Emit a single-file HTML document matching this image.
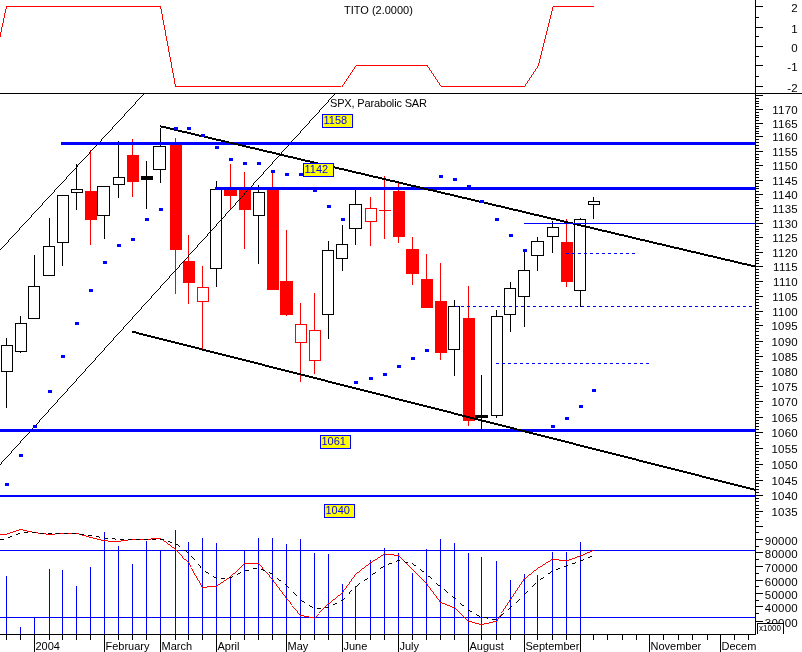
<!DOCTYPE html>
<html><head><meta charset="utf-8"><title>SPX chart</title>
<style>
html,body{margin:0;padding:0;background:#fff;}
svg{display:block;}
text{font-family:"Liberation Sans",sans-serif;fill:#000;}
.t{font-size:11px;}
.a{font-size:11.5px;letter-spacing:0.25px;}
</style></head><body>
<svg width="802" height="652" viewBox="0 0 802 652" shape-rendering="crispEdges">
<rect width="802" height="652" fill="#fff"/>
<path fill="#ff0000" d="M6 6h155v1h-155zM553 6h41v1h-41zM6 7h1v1h-1zM160 7h1v1h-1zM552 7h1v1h-1zM6 8h1v1h-1zM160 8h1v1h-1zM552 8h1v1h-1zM5 9h1v1h-1zM161 9h1v1h-1zM552 9h1v1h-1zM5 10h1v1h-1zM161 10h1v1h-1zM552 10h1v1h-1zM5 11h1v1h-1zM161 11h1v1h-1zM551 11h1v1h-1zM5 12h1v1h-1zM161 12h1v1h-1zM551 12h1v1h-1zM4 13h1v1h-1zM161 13h1v1h-1zM551 13h1v1h-1zM4 14h1v1h-1zM162 14h1v1h-1zM551 14h1v1h-1zM4 15h1v1h-1zM162 15h1v1h-1zM550 15h1v1h-1zM4 16h1v1h-1zM162 16h1v1h-1zM550 16h1v1h-1zM4 17h1v1h-1zM162 17h1v1h-1zM550 17h1v1h-1zM3 18h1v1h-1zM162 18h1v1h-1zM550 18h1v1h-1zM3 19h1v1h-1zM162 19h1v1h-1zM549 19h1v1h-1zM3 20h1v1h-1zM163 20h1v1h-1zM549 20h1v1h-1zM3 21h1v1h-1zM163 21h1v1h-1zM549 21h1v1h-1zM3 22h1v1h-1zM163 22h1v1h-1zM549 22h1v1h-1zM2 23h1v1h-1zM163 23h1v1h-1zM548 23h1v1h-1zM2 24h1v1h-1zM163 24h1v1h-1zM548 24h1v1h-1zM2 25h1v1h-1zM164 25h1v1h-1zM548 25h1v1h-1zM2 26h1v1h-1zM164 26h1v1h-1zM548 26h1v1h-1zM1 27h1v1h-1zM164 27h1v1h-1zM547 27h1v1h-1zM1 28h1v1h-1zM164 28h1v1h-1zM547 28h1v1h-1zM1 29h1v1h-1zM164 29h1v1h-1zM547 29h1v1h-1zM1 30h1v1h-1zM165 30h1v1h-1zM547 30h1v1h-1zM1 31h1v1h-1zM165 31h1v1h-1zM546 31h1v1h-1zM0 32h1v1h-1zM165 32h1v1h-1zM546 32h1v1h-1zM0 33h1v1h-1zM165 33h1v1h-1zM546 33h1v1h-1zM0 34h1v1h-1zM165 34h1v1h-1zM546 34h1v1h-1zM0 35h1v1h-1zM165 35h1v1h-1zM545 35h1v1h-1zM0 36h1v1h-1zM166 36h1v1h-1zM545 36h1v1h-1zM166 37h1v1h-1zM545 37h1v1h-1zM166 38h1v1h-1zM545 38h1v1h-1zM166 39h1v1h-1zM544 39h1v1h-1zM166 40h1v1h-1zM544 40h1v1h-1zM167 41h1v1h-1zM544 41h1v1h-1zM167 42h1v1h-1zM544 42h1v1h-1zM167 43h1v1h-1zM543 43h1v1h-1zM167 44h1v1h-1zM543 44h1v1h-1zM167 45h1v1h-1zM543 45h1v1h-1zM168 46h1v1h-1zM543 46h1v1h-1zM168 47h1v1h-1zM542 47h1v1h-1zM168 48h1v1h-1zM542 48h1v1h-1zM168 49h1v1h-1zM542 49h1v1h-1zM168 50h1v1h-1zM542 50h1v1h-1zM168 51h1v1h-1zM541 51h1v1h-1zM169 52h1v1h-1zM541 52h1v1h-1zM169 53h1v1h-1zM541 53h1v1h-1zM169 54h1v1h-1zM541 54h1v1h-1zM169 55h1v1h-1zM540 55h1v1h-1zM169 56h1v1h-1zM540 56h1v1h-1zM170 57h1v1h-1zM540 57h1v1h-1zM170 58h1v1h-1zM540 58h1v1h-1zM170 59h1v1h-1zM539 59h1v1h-1zM170 60h1v1h-1zM539 60h1v1h-1zM170 61h1v1h-1zM539 61h1v1h-1zM171 62h1v1h-1zM539 62h1v1h-1zM171 63h1v1h-1zM538 63h1v1h-1zM171 64h1v1h-1zM538 64h1v1h-1zM171 65h1v1h-1zM356 65h72v1h-72zM538 65h1v1h-1zM171 66h1v1h-1zM355 66h1v1h-1zM427 66h1v1h-1zM537 66h1v1h-1zM171 67h1v1h-1zM354 67h1v1h-1zM428 67h1v1h-1zM537 67h1v1h-1zM172 68h1v1h-1zM354 68h1v1h-1zM429 68h1v1h-1zM536 68h1v1h-1zM172 69h1v1h-1zM353 69h1v1h-1zM429 69h1v1h-1zM535 69h1v1h-1zM172 70h1v1h-1zM352 70h1v1h-1zM430 70h1v1h-1zM535 70h1v1h-1zM172 71h1v1h-1zM352 71h1v1h-1zM431 71h1v1h-1zM534 71h1v1h-1zM172 72h1v1h-1zM351 72h1v1h-1zM431 72h1v1h-1zM533 72h1v1h-1zM173 73h1v1h-1zM350 73h1v1h-1zM432 73h1v1h-1zM533 73h1v1h-1zM173 74h1v1h-1zM350 74h1v1h-1zM433 74h1v1h-1zM532 74h1v1h-1zM173 75h1v1h-1zM349 75h1v1h-1zM433 75h1v1h-1zM531 75h1v1h-1zM173 76h1v1h-1zM348 76h1v1h-1zM434 76h1v1h-1zM531 76h1v1h-1zM173 77h1v1h-1zM348 77h1v1h-1zM435 77h1v1h-1zM530 77h1v1h-1zM174 78h1v1h-1zM347 78h1v1h-1zM435 78h1v1h-1zM529 78h1v1h-1zM174 79h1v1h-1zM346 79h1v1h-1zM436 79h1v1h-1zM529 79h1v1h-1zM174 80h1v1h-1zM346 80h1v1h-1zM437 80h1v1h-1zM528 80h1v1h-1zM174 81h1v1h-1zM345 81h1v1h-1zM437 81h1v1h-1zM527 81h1v1h-1zM174 82h1v1h-1zM344 82h1v1h-1zM438 82h1v1h-1zM527 82h1v1h-1zM174 83h1v1h-1zM344 83h1v1h-1zM439 83h1v1h-1zM526 83h1v1h-1zM175 84h1v1h-1zM343 84h1v1h-1zM439 84h1v1h-1zM525 84h1v1h-1zM175 85h1v1h-1zM342 85h1v1h-1zM440 85h1v1h-1zM525 85h1v1h-1zM175 86h166v1h-166zM342 86h1v1h-1zM441 86h84v1h-84z"/>
<text x="344" y="14" class="t">TITO (2.0000)</text>
<rect x="0" y="93" width="802" height="1" fill="#000000"/>
<rect x="755" y="0" width="1" height="635" fill="#000000"/>
<rect x="756" y="6" width="7" height="1" fill="#000000"/>
<text x="798" y="11.5" class="a" text-anchor="end">2</text>
<rect x="756" y="27" width="7" height="1" fill="#000000"/>
<text x="798" y="32.5" class="a" text-anchor="end">1</text>
<rect x="756" y="46" width="7" height="1" fill="#000000"/>
<text x="798" y="51.5" class="a" text-anchor="end">0</text>
<rect x="756" y="65" width="7" height="1" fill="#000000"/>
<text x="798" y="70.5" class="a" text-anchor="end">-1</text>
<rect x="756" y="86" width="7" height="1" fill="#000000"/>
<text x="798" y="91.5" class="a" text-anchor="end">-2</text>
<rect x="756" y="17" width="3" height="1" fill="#000000"/>
<rect x="756" y="36" width="3" height="1" fill="#000000"/>
<rect x="756" y="56" width="3" height="1" fill="#000000"/>
<rect x="756" y="76" width="3" height="1" fill="#000000"/>
<rect x="756" y="521" width="3" height="1" fill="#000000"/>
<rect x="756" y="517" width="3" height="1" fill="#000000"/>
<rect x="756" y="514" width="3" height="1" fill="#000000"/>
<rect x="756" y="511" width="7" height="1" fill="#000000"/>
<text x="798" y="516.2" class="a" text-anchor="end">1035</text>
<rect x="756" y="508" width="3" height="1" fill="#000000"/>
<rect x="756" y="505" width="3" height="1" fill="#000000"/>
<rect x="756" y="501" width="3" height="1" fill="#000000"/>
<rect x="756" y="498" width="3" height="1" fill="#000000"/>
<rect x="756" y="495" width="7" height="1" fill="#000000"/>
<text x="798" y="500.2" class="a" text-anchor="end">1040</text>
<rect x="756" y="492" width="3" height="1" fill="#000000"/>
<rect x="756" y="489" width="3" height="1" fill="#000000"/>
<rect x="756" y="486" width="3" height="1" fill="#000000"/>
<rect x="756" y="483" width="3" height="1" fill="#000000"/>
<rect x="756" y="480" width="7" height="1" fill="#000000"/>
<text x="798" y="485.2" class="a" text-anchor="end">1045</text>
<rect x="756" y="477" width="3" height="1" fill="#000000"/>
<rect x="756" y="474" width="3" height="1" fill="#000000"/>
<rect x="756" y="470" width="3" height="1" fill="#000000"/>
<rect x="756" y="467" width="3" height="1" fill="#000000"/>
<rect x="756" y="464" width="7" height="1" fill="#000000"/>
<text x="798" y="469.2" class="a" text-anchor="end">1050</text>
<rect x="756" y="461" width="3" height="1" fill="#000000"/>
<rect x="756" y="458" width="3" height="1" fill="#000000"/>
<rect x="756" y="454" width="3" height="1" fill="#000000"/>
<rect x="756" y="451" width="3" height="1" fill="#000000"/>
<rect x="756" y="448" width="7" height="1" fill="#000000"/>
<text x="798" y="453.2" class="a" text-anchor="end">1055</text>
<rect x="756" y="445" width="3" height="1" fill="#000000"/>
<rect x="756" y="442" width="3" height="1" fill="#000000"/>
<rect x="756" y="438" width="3" height="1" fill="#000000"/>
<rect x="756" y="435" width="3" height="1" fill="#000000"/>
<rect x="756" y="432" width="7" height="1" fill="#000000"/>
<text x="798" y="437.2" class="a" text-anchor="end">1060</text>
<rect x="756" y="429" width="3" height="1" fill="#000000"/>
<rect x="756" y="426" width="3" height="1" fill="#000000"/>
<rect x="756" y="423" width="3" height="1" fill="#000000"/>
<rect x="756" y="420" width="3" height="1" fill="#000000"/>
<rect x="756" y="417" width="7" height="1" fill="#000000"/>
<text x="798" y="422.2" class="a" text-anchor="end">1065</text>
<rect x="756" y="414" width="3" height="1" fill="#000000"/>
<rect x="756" y="411" width="3" height="1" fill="#000000"/>
<rect x="756" y="407" width="3" height="1" fill="#000000"/>
<rect x="756" y="404" width="3" height="1" fill="#000000"/>
<rect x="756" y="401" width="7" height="1" fill="#000000"/>
<text x="798" y="406.2" class="a" text-anchor="end">1070</text>
<rect x="756" y="398" width="3" height="1" fill="#000000"/>
<rect x="756" y="395" width="3" height="1" fill="#000000"/>
<rect x="756" y="392" width="3" height="1" fill="#000000"/>
<rect x="756" y="389" width="3" height="1" fill="#000000"/>
<rect x="756" y="386" width="7" height="1" fill="#000000"/>
<text x="798" y="391.2" class="a" text-anchor="end">1075</text>
<rect x="756" y="383" width="3" height="1" fill="#000000"/>
<rect x="756" y="380" width="3" height="1" fill="#000000"/>
<rect x="756" y="377" width="3" height="1" fill="#000000"/>
<rect x="756" y="374" width="3" height="1" fill="#000000"/>
<rect x="756" y="371" width="7" height="1" fill="#000000"/>
<text x="798" y="376.2" class="a" text-anchor="end">1080</text>
<rect x="756" y="368" width="3" height="1" fill="#000000"/>
<rect x="756" y="365" width="3" height="1" fill="#000000"/>
<rect x="756" y="362" width="3" height="1" fill="#000000"/>
<rect x="756" y="359" width="3" height="1" fill="#000000"/>
<rect x="756" y="356" width="7" height="1" fill="#000000"/>
<text x="798" y="361.2" class="a" text-anchor="end">1085</text>
<rect x="756" y="353" width="3" height="1" fill="#000000"/>
<rect x="756" y="350" width="3" height="1" fill="#000000"/>
<rect x="756" y="347" width="3" height="1" fill="#000000"/>
<rect x="756" y="344" width="3" height="1" fill="#000000"/>
<rect x="756" y="341" width="7" height="1" fill="#000000"/>
<text x="798" y="346.2" class="a" text-anchor="end">1090</text>
<rect x="756" y="338" width="3" height="1" fill="#000000"/>
<rect x="756" y="335" width="3" height="1" fill="#000000"/>
<rect x="756" y="331" width="3" height="1" fill="#000000"/>
<rect x="756" y="328" width="3" height="1" fill="#000000"/>
<rect x="756" y="325" width="7" height="1" fill="#000000"/>
<text x="798" y="330.2" class="a" text-anchor="end">1095</text>
<rect x="756" y="322" width="3" height="1" fill="#000000"/>
<rect x="756" y="319" width="3" height="1" fill="#000000"/>
<rect x="756" y="317" width="3" height="1" fill="#000000"/>
<rect x="756" y="314" width="3" height="1" fill="#000000"/>
<rect x="756" y="311" width="7" height="1" fill="#000000"/>
<text x="798" y="316.2" class="a" text-anchor="end">1100</text>
<rect x="756" y="308" width="3" height="1" fill="#000000"/>
<rect x="756" y="305" width="3" height="1" fill="#000000"/>
<rect x="756" y="302" width="3" height="1" fill="#000000"/>
<rect x="756" y="299" width="3" height="1" fill="#000000"/>
<rect x="756" y="296" width="7" height="1" fill="#000000"/>
<text x="798" y="301.2" class="a" text-anchor="end">1105</text>
<rect x="756" y="293" width="3" height="1" fill="#000000"/>
<rect x="756" y="290" width="3" height="1" fill="#000000"/>
<rect x="756" y="287" width="3" height="1" fill="#000000"/>
<rect x="756" y="284" width="3" height="1" fill="#000000"/>
<rect x="756" y="281" width="7" height="1" fill="#000000"/>
<text x="798" y="286.2" class="a" text-anchor="end">1110</text>
<rect x="756" y="278" width="3" height="1" fill="#000000"/>
<rect x="756" y="275" width="3" height="1" fill="#000000"/>
<rect x="756" y="272" width="3" height="1" fill="#000000"/>
<rect x="756" y="269" width="3" height="1" fill="#000000"/>
<rect x="756" y="266" width="7" height="1" fill="#000000"/>
<text x="798" y="271.2" class="a" text-anchor="end">1115</text>
<rect x="756" y="263" width="3" height="1" fill="#000000"/>
<rect x="756" y="260" width="3" height="1" fill="#000000"/>
<rect x="756" y="258" width="3" height="1" fill="#000000"/>
<rect x="756" y="255" width="3" height="1" fill="#000000"/>
<rect x="756" y="252" width="7" height="1" fill="#000000"/>
<text x="798" y="257.2" class="a" text-anchor="end">1120</text>
<rect x="756" y="249" width="3" height="1" fill="#000000"/>
<rect x="756" y="246" width="3" height="1" fill="#000000"/>
<rect x="756" y="243" width="3" height="1" fill="#000000"/>
<rect x="756" y="240" width="3" height="1" fill="#000000"/>
<rect x="756" y="237" width="7" height="1" fill="#000000"/>
<text x="798" y="242.2" class="a" text-anchor="end">1125</text>
<rect x="756" y="234" width="3" height="1" fill="#000000"/>
<rect x="756" y="231" width="3" height="1" fill="#000000"/>
<rect x="756" y="229" width="3" height="1" fill="#000000"/>
<rect x="756" y="226" width="3" height="1" fill="#000000"/>
<rect x="756" y="223" width="7" height="1" fill="#000000"/>
<text x="798" y="228.2" class="a" text-anchor="end">1130</text>
<rect x="756" y="220" width="3" height="1" fill="#000000"/>
<rect x="756" y="217" width="3" height="1" fill="#000000"/>
<rect x="756" y="214" width="3" height="1" fill="#000000"/>
<rect x="756" y="211" width="3" height="1" fill="#000000"/>
<rect x="756" y="208" width="7" height="1" fill="#000000"/>
<text x="798" y="213.2" class="a" text-anchor="end">1135</text>
<rect x="756" y="205" width="3" height="1" fill="#000000"/>
<rect x="756" y="202" width="3" height="1" fill="#000000"/>
<rect x="756" y="200" width="3" height="1" fill="#000000"/>
<rect x="756" y="197" width="3" height="1" fill="#000000"/>
<rect x="756" y="194" width="7" height="1" fill="#000000"/>
<text x="798" y="199.2" class="a" text-anchor="end">1140</text>
<rect x="756" y="191" width="3" height="1" fill="#000000"/>
<rect x="756" y="188" width="3" height="1" fill="#000000"/>
<rect x="756" y="186" width="3" height="1" fill="#000000"/>
<rect x="756" y="183" width="3" height="1" fill="#000000"/>
<rect x="756" y="180" width="7" height="1" fill="#000000"/>
<text x="798" y="185.2" class="a" text-anchor="end">1145</text>
<rect x="756" y="177" width="3" height="1" fill="#000000"/>
<rect x="756" y="174" width="3" height="1" fill="#000000"/>
<rect x="756" y="171" width="3" height="1" fill="#000000"/>
<rect x="756" y="168" width="3" height="1" fill="#000000"/>
<rect x="756" y="165" width="7" height="1" fill="#000000"/>
<text x="798" y="170.2" class="a" text-anchor="end">1150</text>
<rect x="756" y="162" width="3" height="1" fill="#000000"/>
<rect x="756" y="159" width="3" height="1" fill="#000000"/>
<rect x="756" y="157" width="3" height="1" fill="#000000"/>
<rect x="756" y="154" width="3" height="1" fill="#000000"/>
<rect x="756" y="151" width="7" height="1" fill="#000000"/>
<text x="798" y="156.2" class="a" text-anchor="end">1155</text>
<rect x="756" y="148" width="3" height="1" fill="#000000"/>
<rect x="756" y="145" width="3" height="1" fill="#000000"/>
<rect x="756" y="142" width="3" height="1" fill="#000000"/>
<rect x="756" y="139" width="3" height="1" fill="#000000"/>
<rect x="756" y="136" width="7" height="1" fill="#000000"/>
<text x="798" y="141.2" class="a" text-anchor="end">1160</text>
<rect x="756" y="133" width="3" height="1" fill="#000000"/>
<rect x="756" y="131" width="3" height="1" fill="#000000"/>
<rect x="756" y="128" width="3" height="1" fill="#000000"/>
<rect x="756" y="126" width="3" height="1" fill="#000000"/>
<rect x="756" y="123" width="7" height="1" fill="#000000"/>
<text x="798" y="128.2" class="a" text-anchor="end">1165</text>
<rect x="756" y="120" width="3" height="1" fill="#000000"/>
<rect x="756" y="117" width="3" height="1" fill="#000000"/>
<rect x="756" y="115" width="3" height="1" fill="#000000"/>
<rect x="756" y="112" width="3" height="1" fill="#000000"/>
<rect x="756" y="109" width="7" height="1" fill="#000000"/>
<text x="798" y="114.2" class="a" text-anchor="end">1170</text>
<rect x="756" y="106" width="3" height="1" fill="#000000"/>
<rect x="756" y="103" width="3" height="1" fill="#000000"/>
<rect x="756" y="101" width="3" height="1" fill="#000000"/>
<rect x="756" y="98" width="3" height="1" fill="#000000"/>
<rect x="756" y="95" width="7" height="1" fill="#000000"/>
<rect x="756" y="526" width="7" height="1" fill="#000000"/>
<rect x="756" y="539" width="7" height="1" fill="#000000"/>
<text x="798" y="544.5" class="a" text-anchor="end">90000</text>
<rect x="756" y="552" width="7" height="1" fill="#000000"/>
<text x="798" y="557.5" class="a" text-anchor="end">80000</text>
<rect x="756" y="566" width="7" height="1" fill="#000000"/>
<text x="798" y="571.5" class="a" text-anchor="end">70000</text>
<rect x="756" y="580" width="7" height="1" fill="#000000"/>
<text x="798" y="585.5" class="a" text-anchor="end">60000</text>
<rect x="756" y="593" width="7" height="1" fill="#000000"/>
<text x="798" y="598.5" class="a" text-anchor="end">50000</text>
<rect x="756" y="606" width="7" height="1" fill="#000000"/>
<text x="798" y="611.5" class="a" text-anchor="end">40000</text>
<rect x="756" y="621" width="7" height="1" fill="#000000"/>
<text x="798" y="626.5" class="a" text-anchor="end">30000</text>
<rect x="756" y="517" width="3" height="1" fill="#000000"/>
<rect x="756" y="532" width="3" height="1" fill="#000000"/>
<rect x="756" y="546" width="3" height="1" fill="#000000"/>
<rect x="756" y="559" width="3" height="1" fill="#000000"/>
<rect x="756" y="573" width="3" height="1" fill="#000000"/>
<rect x="756" y="586" width="3" height="1" fill="#000000"/>
<rect x="756" y="600" width="3" height="1" fill="#000000"/>
<rect x="756" y="613" width="3" height="1" fill="#000000"/>
<rect x="757" y="623" width="27" height="11" fill="#fff"/>
<rect x="757" y="623" width="27" height="1" fill="#000000"/>
<rect x="757" y="623" width="1" height="11" fill="#000000"/>
<rect x="783" y="623" width="1" height="11" fill="#000000"/>
<text x="759" y="631" style="font-size:9px" textLength="22" lengthAdjust="spacingAndGlyphs">x1000</text>
<rect x="0" y="634" width="756" height="1" fill="#000000"/>
<rect x="6" y="635" width="1" height="5" fill="#000000"/>
<rect x="20" y="635" width="1" height="5" fill="#000000"/>
<rect x="34" y="635" width="1" height="17" fill="#000000"/>
<text x="35.5" y="649.5" class="t">2004</text>
<rect x="49" y="635" width="1" height="5" fill="#000000"/>
<rect x="62" y="635" width="1" height="5" fill="#000000"/>
<rect x="76" y="635" width="1" height="5" fill="#000000"/>
<rect x="90" y="635" width="1" height="5" fill="#000000"/>
<rect x="104" y="635" width="1" height="17" fill="#000000"/>
<text x="105.5" y="649.5" class="t">February</text>
<rect x="118" y="635" width="1" height="5" fill="#000000"/>
<rect x="132" y="635" width="1" height="5" fill="#000000"/>
<rect x="146" y="635" width="1" height="5" fill="#000000"/>
<rect x="160" y="635" width="1" height="17" fill="#000000"/>
<text x="161.5" y="649.5" class="t">March</text>
<rect x="175" y="635" width="1" height="5" fill="#000000"/>
<rect x="188" y="635" width="1" height="5" fill="#000000"/>
<rect x="202" y="635" width="1" height="5" fill="#000000"/>
<rect x="216" y="635" width="1" height="17" fill="#000000"/>
<text x="217.5" y="649.5" class="t">April</text>
<rect x="230" y="635" width="1" height="5" fill="#000000"/>
<rect x="244" y="635" width="1" height="5" fill="#000000"/>
<rect x="258" y="635" width="1" height="5" fill="#000000"/>
<rect x="272" y="635" width="1" height="5" fill="#000000"/>
<rect x="286" y="635" width="1" height="17" fill="#000000"/>
<text x="287.5" y="649.5" class="t">May</text>
<rect x="300" y="635" width="1" height="5" fill="#000000"/>
<rect x="314" y="635" width="1" height="5" fill="#000000"/>
<rect x="328" y="635" width="1" height="5" fill="#000000"/>
<rect x="342" y="635" width="1" height="17" fill="#000000"/>
<text x="343.5" y="649.5" class="t">June</text>
<rect x="355" y="635" width="1" height="5" fill="#000000"/>
<rect x="370" y="635" width="1" height="5" fill="#000000"/>
<rect x="384" y="635" width="1" height="5" fill="#000000"/>
<rect x="398" y="635" width="1" height="17" fill="#000000"/>
<text x="399.5" y="649.5" class="t">July</text>
<rect x="412" y="635" width="1" height="5" fill="#000000"/>
<rect x="426" y="635" width="1" height="5" fill="#000000"/>
<rect x="440" y="635" width="1" height="5" fill="#000000"/>
<rect x="454" y="635" width="1" height="5" fill="#000000"/>
<rect x="468" y="635" width="1" height="17" fill="#000000"/>
<text x="469.5" y="649.5" class="t">August</text>
<rect x="481" y="635" width="1" height="5" fill="#000000"/>
<rect x="496" y="635" width="1" height="5" fill="#000000"/>
<rect x="510" y="635" width="1" height="5" fill="#000000"/>
<rect x="524" y="635" width="1" height="17" fill="#000000"/>
<text x="525.5" y="649.5" class="t">September</text>
<rect x="537" y="635" width="1" height="5" fill="#000000"/>
<rect x="552" y="635" width="1" height="5" fill="#000000"/>
<rect x="566" y="635" width="1" height="5" fill="#000000"/>
<rect x="580" y="635" width="1" height="17" fill="#000000"/>
<rect x="593" y="635" width="1" height="5" fill="#000000"/>
<rect x="607" y="635" width="1" height="5" fill="#000000"/>
<rect x="622" y="635" width="1" height="5" fill="#000000"/>
<rect x="636" y="635" width="1" height="5" fill="#000000"/>
<rect x="649" y="635" width="1" height="17" fill="#000000"/>
<text x="650.5" y="649.5" class="t">November</text>
<rect x="663" y="635" width="1" height="5" fill="#000000"/>
<rect x="678" y="635" width="1" height="5" fill="#000000"/>
<rect x="692" y="635" width="1" height="5" fill="#000000"/>
<rect x="707" y="635" width="1" height="5" fill="#000000"/>
<rect x="720" y="635" width="1" height="17" fill="#000000"/>
<text x="721.5" y="649.5" class="t">Decem</text>
<rect x="734" y="635" width="1" height="5" fill="#000000"/>
<rect x="748" y="635" width="1" height="5" fill="#000000"/>
<rect x="6" y="576" width="1" height="58" fill="#0000ff"/>
<rect x="20" y="627" width="1" height="7" fill="#0000ff"/>
<rect x="34" y="618" width="1" height="16" fill="#0000ff"/>
<rect x="49" y="569" width="1" height="65" fill="#0000ff"/>
<rect x="62" y="570" width="1" height="64" fill="#0000ff"/>
<rect x="76" y="586" width="1" height="48" fill="#0000ff"/>
<rect x="90" y="567" width="1" height="67" fill="#0000ff"/>
<rect x="104" y="532" width="1" height="102" fill="#0000ff"/>
<rect x="118" y="546" width="1" height="88" fill="#0000ff"/>
<rect x="132" y="564" width="1" height="70" fill="#0000ff"/>
<rect x="146" y="541" width="1" height="93" fill="#0000ff"/>
<rect x="160" y="550" width="1" height="84" fill="#0000ff"/>
<rect x="175" y="530" width="1" height="104" fill="#0000ff"/>
<rect x="188" y="542" width="1" height="92" fill="#0000ff"/>
<rect x="202" y="538" width="1" height="96" fill="#0000ff"/>
<rect x="216" y="543" width="1" height="91" fill="#0000ff"/>
<rect x="230" y="577" width="1" height="57" fill="#0000ff"/>
<rect x="244" y="550" width="1" height="84" fill="#0000ff"/>
<rect x="258" y="538" width="1" height="96" fill="#0000ff"/>
<rect x="272" y="538" width="1" height="96" fill="#0000ff"/>
<rect x="286" y="544" width="1" height="90" fill="#0000ff"/>
<rect x="300" y="539" width="1" height="95" fill="#0000ff"/>
<rect x="314" y="553" width="1" height="81" fill="#0000ff"/>
<rect x="328" y="554" width="1" height="80" fill="#0000ff"/>
<rect x="342" y="584" width="1" height="50" fill="#0000ff"/>
<rect x="355" y="586" width="1" height="48" fill="#0000ff"/>
<rect x="370" y="560" width="1" height="74" fill="#0000ff"/>
<rect x="384" y="548" width="1" height="86" fill="#0000ff"/>
<rect x="398" y="553" width="1" height="81" fill="#0000ff"/>
<rect x="412" y="573" width="1" height="61" fill="#0000ff"/>
<rect x="426" y="549" width="1" height="85" fill="#0000ff"/>
<rect x="440" y="539" width="1" height="95" fill="#0000ff"/>
<rect x="454" y="543" width="1" height="91" fill="#0000ff"/>
<rect x="468" y="553" width="1" height="81" fill="#0000ff"/>
<rect x="481" y="557" width="1" height="77" fill="#0000ff"/>
<rect x="496" y="561" width="1" height="73" fill="#0000ff"/>
<rect x="510" y="580" width="1" height="54" fill="#0000ff"/>
<rect x="524" y="574" width="1" height="60" fill="#0000ff"/>
<rect x="537" y="575" width="1" height="59" fill="#0000ff"/>
<rect x="552" y="552" width="1" height="82" fill="#0000ff"/>
<rect x="566" y="552" width="1" height="82" fill="#0000ff"/>
<rect x="580" y="542" width="1" height="92" fill="#0000ff"/>
<rect x="0" y="550" width="755" height="1" fill="#0000ff"/>
<rect x="0" y="617" width="755" height="1" fill="#0000ff"/>
<path fill="#ff0000" d="M19 529h4v1h-4zM16 530h3v1h-3zM23 530h4v1h-4zM13 531h3v1h-3zM27 531h5v1h-5zM10 532h3v1h-3zM32 532h6v1h-6zM7 533h3v1h-3zM38 533h8v1h-8zM55 533h24v1h-24zM0 534h7v1h-7zM46 534h9v1h-9zM79 534h3v1h-3zM82 535h4v1h-4zM86 536h3v1h-3zM89 537h4v1h-4zM93 538h4v1h-4zM151 538h10v1h-10zM97 539h4v1h-4zM128 539h23v1h-23zM161 539h2v1h-2zM101 540h7v1h-7zM121 540h7v1h-7zM163 540h1v1h-1zM108 541h13v1h-13zM164 541h2v1h-2zM166 542h1v1h-1zM167 543h1v1h-1zM168 544h2v1h-2zM170 545h1v1h-1zM171 546h1v1h-1zM172 547h2v1h-2zM174 548h1v1h-1zM175 549h1v1h-1zM176 550h1v1h-1zM592 550h1v1h-1zM177 551h1v1h-1zM590 551h2v1h-2zM178 552h1v1h-1zM587 552h3v1h-3zM179 553h1v1h-1zM384 553h1v1h-1zM585 553h2v1h-2zM180 554h1v1h-1zM383 554h1v1h-1zM385 554h9v1h-9zM583 554h2v1h-2zM181 555h1v1h-1zM381 555h2v1h-2zM394 555h5v1h-5zM580 555h3v1h-3zM182 556h1v1h-1zM380 556h1v1h-1zM399 556h1v1h-1zM577 556h3v1h-3zM182 557h1v1h-1zM378 557h2v1h-2zM400 557h1v1h-1zM575 557h2v1h-2zM183 558h1v1h-1zM377 558h1v1h-1zM401 558h1v1h-1zM572 558h3v1h-3zM184 559h2v1h-2zM375 559h2v1h-2zM402 559h1v1h-1zM551 559h8v1h-8zM569 559h3v1h-3zM186 560h1v1h-1zM373 560h2v1h-2zM403 560h1v1h-1zM550 560h1v1h-1zM559 560h10v1h-10zM187 561h1v1h-1zM372 561h1v1h-1zM404 561h1v1h-1zM548 561h2v1h-2zM188 562h1v1h-1zM370 562h2v1h-2zM405 562h1v1h-1zM546 562h2v1h-2zM189 563h1v1h-1zM244 563h15v1h-15zM369 563h1v1h-1zM406 563h1v1h-1zM545 563h1v1h-1zM189 564h1v1h-1zM243 564h1v1h-1zM259 564h1v1h-1zM368 564h1v1h-1zM407 564h1v1h-1zM543 564h2v1h-2zM190 565h1v1h-1zM242 565h1v1h-1zM260 565h1v1h-1zM366 565h2v1h-2zM408 565h1v1h-1zM542 565h1v1h-1zM190 566h1v1h-1zM241 566h1v1h-1zM261 566h1v1h-1zM365 566h1v1h-1zM409 566h1v1h-1zM540 566h2v1h-2zM240 567h1v1h-1zM262 567h1v1h-1zM364 567h1v1h-1zM410 567h1v1h-1zM538 567h2v1h-2zM191 568h1v1h-1zM239 568h1v1h-1zM262 568h1v1h-1zM362 568h2v1h-2zM411 568h1v1h-1zM537 568h1v1h-1zM192 569h1v1h-1zM238 569h1v1h-1zM263 569h1v1h-1zM361 569h1v1h-1zM412 569h1v1h-1zM536 569h1v1h-1zM192 570h1v1h-1zM237 570h1v1h-1zM264 570h1v1h-1zM360 570h1v1h-1zM413 570h1v1h-1zM534 570h2v1h-2zM193 571h1v1h-1zM236 571h1v1h-1zM265 571h1v1h-1zM359 571h1v1h-1zM414 571h1v1h-1zM533 571h1v1h-1zM193 572h1v1h-1zM235 572h1v1h-1zM266 572h1v1h-1zM357 572h2v1h-2zM415 572h1v1h-1zM532 572h1v1h-1zM194 573h1v1h-1zM233 573h2v1h-2zM267 573h1v1h-1zM356 573h1v1h-1zM416 573h1v1h-1zM531 573h1v1h-1zM194 574h1v1h-1zM232 574h1v1h-1zM268 574h1v1h-1zM355 574h1v1h-1zM417 574h1v1h-1zM529 574h2v1h-2zM195 575h1v1h-1zM231 575h1v1h-1zM269 575h1v1h-1zM354 575h1v1h-1zM418 575h1v1h-1zM528 575h1v1h-1zM196 576h1v1h-1zM230 576h1v1h-1zM269 576h1v1h-1zM354 576h1v1h-1zM419 576h1v1h-1zM527 576h1v1h-1zM196 577h1v1h-1zM229 577h1v1h-1zM270 577h1v1h-1zM353 577h1v1h-1zM420 577h1v1h-1zM526 577h1v1h-1zM197 578h1v1h-1zM227 578h2v1h-2zM271 578h1v1h-1zM352 578h1v1h-1zM421 578h1v1h-1zM524 578h2v1h-2zM197 579h1v1h-1zM226 579h1v1h-1zM272 579h1v1h-1zM351 579h1v1h-1zM422 579h1v1h-1zM523 579h1v1h-1zM198 580h1v1h-1zM224 580h2v1h-2zM273 580h1v1h-1zM351 580h1v1h-1zM423 580h1v1h-1zM523 580h1v1h-1zM199 581h1v1h-1zM223 581h1v1h-1zM273 581h1v1h-1zM350 581h1v1h-1zM424 581h1v1h-1zM522 581h1v1h-1zM199 582h1v1h-1zM221 582h2v1h-2zM274 582h1v1h-1zM349 582h1v1h-1zM425 582h1v1h-1zM521 582h1v1h-1zM200 583h1v1h-1zM220 583h1v1h-1zM275 583h1v1h-1zM349 583h1v1h-1zM426 583h1v1h-1zM521 583h1v1h-1zM200 584h1v1h-1zM218 584h2v1h-2zM276 584h1v1h-1zM348 584h1v1h-1zM427 584h1v1h-1zM520 584h1v1h-1zM201 585h1v1h-1zM217 585h1v1h-1zM276 585h1v1h-1zM347 585h1v1h-1zM427 585h1v1h-1zM519 585h1v1h-1zM201 586h1v1h-1zM207 586h10v1h-10zM277 586h1v1h-1zM346 586h1v1h-1zM428 586h1v1h-1zM519 586h1v1h-1zM202 587h5v1h-5zM278 587h1v1h-1zM346 587h1v1h-1zM429 587h1v1h-1zM518 587h1v1h-1zM279 588h1v1h-1zM345 588h1v1h-1zM430 588h1v1h-1zM517 588h1v1h-1zM279 589h1v1h-1zM344 589h1v1h-1zM430 589h1v1h-1zM517 589h1v1h-1zM280 590h1v1h-1zM343 590h1v1h-1zM431 590h1v1h-1zM516 590h1v1h-1zM281 591h1v1h-1zM343 591h1v1h-1zM432 591h1v1h-1zM515 591h1v1h-1zM282 592h1v1h-1zM342 592h1v1h-1zM433 592h1v1h-1zM515 592h1v1h-1zM282 593h1v1h-1zM341 593h1v1h-1zM433 593h1v1h-1zM514 593h1v1h-1zM283 594h1v1h-1zM340 594h1v1h-1zM434 594h1v1h-1zM513 594h1v1h-1zM284 595h1v1h-1zM338 595h2v1h-2zM435 595h1v1h-1zM513 595h1v1h-1zM285 596h1v1h-1zM337 596h1v1h-1zM436 596h1v1h-1zM512 596h1v1h-1zM285 597h1v1h-1zM336 597h1v1h-1zM436 597h1v1h-1zM511 597h1v1h-1zM286 598h1v1h-1zM335 598h1v1h-1zM437 598h1v1h-1zM511 598h1v1h-1zM287 599h1v1h-1zM333 599h2v1h-2zM438 599h1v1h-1zM510 599h1v1h-1zM288 600h1v1h-1zM332 600h1v1h-1zM439 600h1v1h-1zM509 600h1v1h-1zM289 601h1v1h-1zM331 601h1v1h-1zM439 601h1v1h-1zM509 601h1v1h-1zM290 602h1v1h-1zM330 602h1v1h-1zM440 602h2v1h-2zM508 602h1v1h-1zM290 603h1v1h-1zM328 603h2v1h-2zM442 603h3v1h-3zM507 603h1v1h-1zM291 604h1v1h-1zM327 604h1v1h-1zM445 604h2v1h-2zM507 604h1v1h-1zM326 605h1v1h-1zM447 605h3v1h-3zM506 605h1v1h-1zM292 606h1v1h-1zM325 606h1v1h-1zM450 606h2v1h-2zM505 606h1v1h-1zM293 607h1v1h-1zM324 607h1v1h-1zM452 607h3v1h-3zM505 607h1v1h-1zM294 608h1v1h-1zM323 608h1v1h-1zM455 608h1v1h-1zM504 608h1v1h-1zM295 609h1v1h-1zM322 609h1v1h-1zM456 609h1v1h-1zM503 609h1v1h-1zM296 610h1v1h-1zM321 610h1v1h-1zM457 610h1v1h-1zM503 610h1v1h-1zM297 611h1v1h-1zM320 611h1v1h-1zM458 611h1v1h-1zM502 611h1v1h-1zM297 612h1v1h-1zM319 612h1v1h-1zM459 612h1v1h-1zM501 612h1v1h-1zM298 613h1v1h-1zM460 613h1v1h-1zM299 614h1v1h-1zM318 614h1v1h-1zM461 614h1v1h-1zM501 614h1v1h-1zM300 615h4v1h-4zM317 615h1v1h-1zM462 615h1v1h-1zM500 615h1v1h-1zM304 616h5v1h-5zM316 616h1v1h-1zM463 616h1v1h-1zM499 616h1v1h-1zM309 617h5v1h-5zM315 617h1v1h-1zM464 617h1v1h-1zM499 617h1v1h-1zM314 618h1v1h-1zM465 618h1v1h-1zM498 618h1v1h-1zM466 619h1v1h-1zM497 619h1v1h-1zM467 620h1v1h-1zM497 620h1v1h-1zM468 621h4v1h-4zM493 621h4v1h-4zM472 622h3v1h-3zM489 622h4v1h-4zM475 623h4v1h-4zM484 623h5v1h-5zM479 624h5v1h-5z"/>
<path fill="#000000" d="M24 532h4v1h-4zM32 532h4v1h-4zM18 533h2v1h-2zM40 533h4v1h-4zM48 533h4v1h-4zM56 533h4v1h-4zM64 533h4v1h-4zM72 533h4v1h-4zM16 534h2v1h-2zM80 534h4v1h-4zM88 535h4v1h-4zM10 536h2v1h-2zM96 536h3v1h-3zM8 537h2v1h-2zM99 537h1v1h-1zM104 537h1v1h-1zM105 538h3v1h-3zM112 538h3v1h-3zM0 539h4v1h-4zM115 539h1v1h-1zM120 539h4v1h-4zM128 539h4v1h-4zM136 539h4v1h-4zM144 539h4v1h-4zM152 539h4v1h-4zM160 539h4v1h-4zM168 541h2v1h-2zM170 542h2v1h-2zM176 544h2v1h-2zM178 545h1v1h-1zM179 546h1v1h-1zM184 550h2v1h-2zM186 551h1v1h-1zM187 552h1v1h-1zM191 556h1v1h-1zM590 556h2v1h-2zM192 557h1v1h-1zM588 557h2v1h-2zM193 558h1v1h-1zM194 559h1v1h-1zM583 559h1v1h-1zM397 560h3v1h-3zM580 560h3v1h-3zM396 561h1v1h-1zM404 561h1v1h-1zM405 562h3v1h-3zM575 562h1v1h-1zM389 563h3v1h-3zM412 563h1v1h-1zM572 563h3v1h-3zM198 564h1v1h-1zM388 564h1v1h-1zM413 564h1v1h-1zM199 565h1v1h-1zM414 565h2v1h-2zM566 565h2v1h-2zM200 566h1v1h-1zM383 566h1v1h-1zM564 566h2v1h-2zM200 567h1v1h-1zM381 567h2v1h-2zM253 568h4v1h-4zM380 568h1v1h-1zM558 568h2v1h-2zM261 569h2v1h-2zM420 569h1v1h-1zM556 569h2v1h-2zM245 570h4v1h-4zM263 570h2v1h-2zM421 570h1v1h-1zM205 571h1v1h-1zM422 571h2v1h-2zM551 571h1v1h-1zM206 572h2v1h-2zM240 572h1v1h-1zM269 572h1v1h-1zM375 572h1v1h-1zM550 572h1v1h-1zM208 573h1v1h-1zM238 573h2v1h-2zM270 573h2v1h-2zM373 573h2v1h-2zM548 573h2v1h-2zM237 574h1v1h-1zM272 574h1v1h-1zM372 574h1v1h-1zM213 576h1v1h-1zM232 576h1v1h-1zM428 576h2v1h-2zM214 577h2v1h-2zM229 577h3v1h-3zM430 577h1v1h-1zM543 577h1v1h-1zM216 578h1v1h-1zM221 578h4v1h-4zM277 578h1v1h-1zM367 578h1v1h-1zM431 578h1v1h-1zM541 578h2v1h-2zM278 579h1v1h-1zM365 579h2v1h-2zM540 579h1v1h-1zM279 580h2v1h-2zM364 580h1v1h-1zM359 583h1v1h-1zM436 583h1v1h-1zM535 583h1v1h-1zM285 584h1v1h-1zM358 584h1v1h-1zM437 584h1v1h-1zM534 584h1v1h-1zM286 585h1v1h-1zM357 585h1v1h-1zM438 585h2v1h-2zM533 585h1v1h-1zM287 586h1v1h-1zM356 586h1v1h-1zM532 586h1v1h-1zM288 587h1v1h-1zM444 589h1v1h-1zM351 590h1v1h-1zM445 590h1v1h-1zM350 591h1v1h-1zM446 591h1v1h-1zM527 591h1v1h-1zM293 592h1v1h-1zM349 592h1v1h-1zM447 592h1v1h-1zM526 592h1v1h-1zM294 593h1v1h-1zM349 593h1v1h-1zM525 593h1v1h-1zM295 594h1v1h-1zM524 594h1v1h-1zM296 595h1v1h-1zM452 596h1v1h-1zM453 597h2v1h-2zM344 598h1v1h-1zM455 598h1v1h-1zM343 599h1v1h-1zM519 599h1v1h-1zM301 600h1v1h-1zM341 600h2v1h-2zM518 600h1v1h-1zM302 601h2v1h-2zM517 601h1v1h-1zM304 602h1v1h-1zM516 602h1v1h-1zM335 603h2v1h-2zM460 603h1v1h-1zM333 604h2v1h-2zM461 604h1v1h-1zM309 605h1v1h-1zM462 605h2v1h-2zM310 606h2v1h-2zM511 606h1v1h-1zM312 607h1v1h-1zM325 607h4v1h-4zM510 607h1v1h-1zM317 608h4v1h-4zM509 608h1v1h-1zM508 609h1v1h-1zM468 610h2v1h-2zM470 611h2v1h-2zM503 613h1v1h-1zM476 614h1v1h-1zM502 614h1v1h-1zM477 615h2v1h-2zM501 615h1v1h-1zM479 616h1v1h-1zM500 616h1v1h-1zM484 617h3v1h-3zM487 618h1v1h-1zM492 619h4v1h-4z"/>
<rect x="6" y="338" width="1" height="70" fill="#000000"/>
<rect x="1.5" y="345.5" width="11" height="26" fill="#fff" stroke="#000000" stroke-width="1"/>
<rect x="20" y="316" width="1" height="37" fill="#000000"/>
<rect x="15.5" y="323.5" width="11" height="28" fill="#fff" stroke="#000000" stroke-width="1"/>
<rect x="34" y="255" width="1" height="64" fill="#000000"/>
<rect x="28.5" y="286.5" width="11" height="32" fill="#fff" stroke="#000000" stroke-width="1"/>
<rect x="49" y="218" width="1" height="58" fill="#000000"/>
<rect x="43.5" y="246.5" width="11" height="29" fill="#fff" stroke="#000000" stroke-width="1"/>
<rect x="62" y="195" width="1" height="71" fill="#000000"/>
<rect x="57.5" y="195.5" width="11" height="47" fill="#fff" stroke="#000000" stroke-width="1"/>
<rect x="76" y="164" width="1" height="46" fill="#000000"/>
<rect x="71.5" y="189.5" width="11" height="3" fill="#fff" stroke="#000000" stroke-width="1"/>
<rect x="90" y="150" width="1" height="95" fill="#ff0000"/>
<rect x="85" y="191" width="12" height="29" fill="#ff0000"/>
<rect x="104" y="186" width="1" height="53" fill="#000000"/>
<rect x="97.5" y="186.5" width="12" height="29" fill="#fff" stroke="#000000" stroke-width="1"/>
<rect x="118" y="141" width="1" height="57" fill="#000000"/>
<rect x="113.5" y="177.5" width="11" height="7" fill="#fff" stroke="#000000" stroke-width="1"/>
<rect x="132" y="139" width="1" height="58" fill="#ff0000"/>
<rect x="127" y="155" width="12" height="27" fill="#ff0000"/>
<rect x="146" y="161" width="1" height="48" fill="#000000"/>
<rect x="141" y="176" width="12" height="4" fill="#000000"/>
<rect x="160" y="128" width="1" height="55" fill="#000000"/>
<rect x="153.5" y="146.5" width="12" height="23" fill="#fff" stroke="#000000" stroke-width="1"/>
<rect x="175" y="138" width="1" height="156" fill="#ff0000"/>
<rect x="170" y="144" width="12" height="106" fill="#ff0000"/>
<rect x="188" y="235" width="1" height="69" fill="#ff0000"/>
<rect x="183" y="261" width="12" height="22" fill="#ff0000"/>
<rect x="202" y="266" width="1" height="83" fill="#ff0000"/>
<rect x="197.5" y="287.5" width="11" height="14" fill="#fff" stroke="#ff0000" stroke-width="1"/>
<rect x="216" y="181" width="1" height="106" fill="#000000"/>
<rect x="210.5" y="189.5" width="11" height="79" fill="#fff" stroke="#000000" stroke-width="1"/>
<rect x="230" y="164" width="1" height="45" fill="#ff0000"/>
<rect x="224" y="190" width="13" height="6" fill="#ff0000"/>
<rect x="244" y="172" width="1" height="77" fill="#ff0000"/>
<rect x="239" y="190" width="12" height="20" fill="#ff0000"/>
<rect x="258" y="185" width="1" height="79" fill="#000000"/>
<rect x="253.5" y="192.5" width="11" height="23" fill="#fff" stroke="#000000" stroke-width="1"/>
<rect x="272" y="173" width="1" height="117" fill="#ff0000"/>
<rect x="267" y="190" width="12" height="100" fill="#ff0000"/>
<rect x="286" y="230" width="1" height="86" fill="#ff0000"/>
<rect x="280" y="281" width="13" height="34" fill="#ff0000"/>
<rect x="300" y="303" width="1" height="79" fill="#ff0000"/>
<rect x="295.5" y="324.5" width="11" height="18" fill="#fff" stroke="#ff0000" stroke-width="1"/>
<rect x="314" y="293" width="1" height="81" fill="#ff0000"/>
<rect x="309.5" y="330.5" width="11" height="30" fill="#fff" stroke="#ff0000" stroke-width="1"/>
<rect x="328" y="241" width="1" height="98" fill="#000000"/>
<rect x="322.5" y="250.5" width="11" height="64" fill="#fff" stroke="#000000" stroke-width="1"/>
<rect x="342" y="225" width="1" height="46" fill="#000000"/>
<rect x="336.5" y="244.5" width="11" height="14" fill="#fff" stroke="#000000" stroke-width="1"/>
<rect x="355" y="190" width="1" height="55" fill="#000000"/>
<rect x="349.5" y="204.5" width="12" height="24" fill="#fff" stroke="#000000" stroke-width="1"/>
<rect x="370" y="197" width="1" height="49" fill="#ff0000"/>
<rect x="365.5" y="208.5" width="11" height="13" fill="#fff" stroke="#ff0000" stroke-width="1"/>
<rect x="384" y="176" width="1" height="63" fill="#ff0000"/>
<rect x="379" y="210" width="12" height="1" fill="#ff0000"/>
<rect x="398" y="183" width="1" height="60" fill="#ff0000"/>
<rect x="393" y="191" width="12" height="46" fill="#ff0000"/>
<rect x="412" y="237" width="1" height="48" fill="#ff0000"/>
<rect x="406" y="249" width="13" height="25" fill="#ff0000"/>
<rect x="426" y="254" width="1" height="54" fill="#ff0000"/>
<rect x="421" y="279" width="12" height="29" fill="#ff0000"/>
<rect x="440" y="263" width="1" height="97" fill="#ff0000"/>
<rect x="435" y="301" width="12" height="52" fill="#ff0000"/>
<rect x="454" y="300" width="1" height="76" fill="#000000"/>
<rect x="448.5" y="306.5" width="11" height="43" fill="#fff" stroke="#000000" stroke-width="1"/>
<rect x="468" y="286" width="1" height="140" fill="#ff0000"/>
<rect x="463" y="318" width="12" height="103" fill="#ff0000"/>
<rect x="481" y="375" width="1" height="54" fill="#000000"/>
<rect x="475" y="415" width="13" height="3" fill="#000000"/>
<rect x="496" y="310" width="1" height="108" fill="#000000"/>
<rect x="491.5" y="316.5" width="11" height="99" fill="#fff" stroke="#000000" stroke-width="1"/>
<rect x="510" y="282" width="1" height="50" fill="#000000"/>
<rect x="504.5" y="288.5" width="11" height="26" fill="#fff" stroke="#000000" stroke-width="1"/>
<rect x="524" y="251" width="1" height="76" fill="#000000"/>
<rect x="518.5" y="270.5" width="11" height="26" fill="#fff" stroke="#000000" stroke-width="1"/>
<rect x="537" y="237" width="1" height="34" fill="#000000"/>
<rect x="531.5" y="241.5" width="12" height="14" fill="#fff" stroke="#000000" stroke-width="1"/>
<rect x="552" y="221" width="1" height="32" fill="#000000"/>
<rect x="547.5" y="227.5" width="11" height="9" fill="#fff" stroke="#000000" stroke-width="1"/>
<rect x="566" y="219" width="1" height="68" fill="#ff0000"/>
<rect x="561" y="242" width="12" height="40" fill="#ff0000"/>
<rect x="580" y="218" width="1" height="89" fill="#000000"/>
<rect x="574.5" y="219.5" width="11" height="71" fill="#fff" stroke="#000000" stroke-width="1"/>
<rect x="593" y="197" width="1" height="22" fill="#000000"/>
<rect x="588.5" y="201.5" width="11" height="3" fill="#fff" stroke="#000000" stroke-width="1"/>
<path fill="#000000" d="M144 93h1v1h-1zM143 94h1v1h-1zM142 95h1v1h-1zM141 96h1v1h-1zM140 97h1v1h-1zM139 98h1v1h-1zM138 99h1v1h-1zM137 100h1v1h-1zM136 101h1v1h-1zM135 102h1v2h-1zM134 104h1v1h-1zM133 105h1v1h-1zM132 106h1v1h-1zM131 107h1v1h-1zM130 108h1v1h-1zM129 109h1v1h-1zM128 110h1v1h-1zM127 111h1v1h-1zM126 112h1v1h-1zM125 113h1v1h-1zM124 114h1v2h-1zM123 116h1v1h-1zM122 117h1v1h-1zM121 118h1v1h-1zM120 119h1v1h-1zM119 120h1v1h-1zM118 121h1v1h-1zM117 122h1v1h-1zM116 123h1v1h-1zM115 124h1v1h-1zM114 125h1v1h-1zM113 126h1v1h-1zM112 127h1v2h-1zM111 129h1v1h-1zM110 130h1v1h-1zM109 131h1v1h-1zM108 132h1v1h-1zM107 133h1v1h-1zM106 134h1v1h-1zM105 135h1v1h-1zM104 136h1v1h-1zM103 137h1v1h-1zM102 138h1v1h-1zM101 139h1v2h-1zM100 141h1v1h-1zM99 142h1v1h-1zM98 143h1v1h-1zM97 144h1v1h-1zM96 145h1v1h-1zM95 146h1v1h-1zM94 147h1v1h-1zM93 148h1v1h-1zM92 149h1v1h-1zM91 150h1v1h-1zM90 151h1v1h-1zM89 152h1v2h-1zM88 154h1v1h-1zM87 155h1v1h-1zM86 156h1v1h-1zM85 157h1v1h-1zM84 158h1v1h-1zM83 159h1v1h-1zM82 160h1v1h-1zM81 161h1v1h-1zM80 162h1v1h-1zM79 163h1v1h-1zM78 164h1v1h-1zM77 165h1v2h-1zM76 167h1v1h-1zM75 168h1v1h-1zM74 169h1v1h-1zM73 170h1v1h-1zM72 171h1v1h-1zM71 172h1v1h-1zM70 173h1v1h-1zM69 174h1v1h-1zM68 175h1v1h-1zM67 176h1v1h-1zM66 177h1v2h-1zM65 179h1v1h-1zM64 180h1v1h-1zM63 181h1v1h-1zM62 182h1v1h-1zM61 183h1v1h-1zM60 184h1v1h-1zM59 185h1v1h-1zM58 186h1v1h-1zM57 187h1v1h-1zM56 188h1v1h-1zM55 189h1v1h-1zM54 190h1v2h-1zM53 192h1v1h-1zM52 193h1v1h-1zM51 194h1v1h-1zM50 195h1v1h-1zM49 196h1v1h-1zM48 197h1v1h-1zM47 198h1v1h-1zM46 199h1v1h-1zM45 200h1v1h-1zM44 201h1v1h-1zM43 202h1v1h-1zM42 203h1v2h-1zM41 205h1v1h-1zM40 206h1v1h-1zM39 207h1v1h-1zM38 208h1v1h-1zM37 209h1v1h-1zM36 210h1v1h-1zM35 211h1v1h-1zM34 212h1v1h-1zM33 213h1v1h-1zM32 214h1v1h-1zM31 215h1v2h-1zM30 217h1v1h-1zM29 218h1v1h-1zM28 219h1v1h-1zM27 220h1v1h-1zM26 221h1v1h-1zM25 222h1v1h-1zM24 223h1v1h-1zM23 224h1v1h-1zM22 225h1v1h-1zM21 226h1v1h-1zM20 227h1v1h-1zM19 228h1v2h-1zM18 230h1v1h-1zM17 231h1v1h-1zM16 232h1v1h-1zM15 233h1v1h-1zM14 234h1v1h-1zM13 235h1v1h-1zM12 236h1v1h-1zM11 237h1v1h-1zM10 238h1v1h-1zM9 239h1v1h-1zM8 240h1v2h-1zM7 242h1v1h-1zM6 243h1v1h-1zM5 244h1v1h-1zM4 245h1v1h-1zM3 246h1v1h-1zM2 247h1v1h-1zM1 248h1v1h-1zM0 249h1v1h-1zM-1 250h1v1h-1z"/>
<path fill="#000000" d="M335 93h1v1h-1zM334 94h1v1h-1zM333 95h1v1h-1zM332 96h1v1h-1zM331 97h1v1h-1zM330 98h1v1h-1zM329 99h1v1h-1zM328 100h1v2h-1zM327 102h1v1h-1zM326 103h1v1h-1zM325 104h1v1h-1zM324 105h1v1h-1zM323 106h1v1h-1zM322 107h1v1h-1zM321 108h1v1h-1zM320 109h1v1h-1zM319 110h1v2h-1zM318 112h1v1h-1zM317 113h1v1h-1zM316 114h1v1h-1zM315 115h1v1h-1zM314 116h1v1h-1zM313 117h1v1h-1zM312 118h1v1h-1zM311 119h1v1h-1zM310 120h1v1h-1zM309 121h1v2h-1zM308 123h1v1h-1zM307 124h1v1h-1zM306 125h1v1h-1zM305 126h1v1h-1zM304 127h1v1h-1zM303 128h1v1h-1zM302 129h1v1h-1zM301 130h1v1h-1zM300 131h1v2h-1zM299 133h1v1h-1zM298 134h1v1h-1zM297 135h1v1h-1zM296 136h1v1h-1zM295 137h1v1h-1zM294 138h1v1h-1zM293 139h1v1h-1zM292 140h1v1h-1zM291 141h1v2h-1zM290 143h1v1h-1zM289 144h1v1h-1zM288 145h1v1h-1zM287 146h1v1h-1zM286 147h1v1h-1zM285 148h1v1h-1zM284 149h1v1h-1zM283 150h1v1h-1zM282 151h1v1h-1zM281 152h1v2h-1zM280 154h1v1h-1zM279 155h1v1h-1zM278 156h1v1h-1zM277 157h1v1h-1zM276 158h1v1h-1zM275 159h1v1h-1zM274 160h1v1h-1zM273 161h1v1h-1zM272 162h1v2h-1zM271 164h1v1h-1zM270 165h1v1h-1zM269 166h1v1h-1zM268 167h1v1h-1zM267 168h1v1h-1zM266 169h1v1h-1zM265 170h1v1h-1zM264 171h1v1h-1zM263 172h1v2h-1zM262 174h1v1h-1zM261 175h1v1h-1zM260 176h1v1h-1zM259 177h1v1h-1zM258 178h1v1h-1zM257 179h1v1h-1zM256 180h1v1h-1zM255 181h1v1h-1zM254 182h1v1h-1zM253 183h1v2h-1zM252 185h1v1h-1zM251 186h1v1h-1zM250 187h1v1h-1zM249 188h1v1h-1zM248 189h1v1h-1zM247 190h1v1h-1zM246 191h1v1h-1zM245 192h1v1h-1zM244 193h1v2h-1zM243 195h1v1h-1zM242 196h1v1h-1zM241 197h1v1h-1zM240 198h1v1h-1zM239 199h1v1h-1zM238 200h1v1h-1zM237 201h1v1h-1zM236 202h1v1h-1zM235 203h1v2h-1zM234 205h1v1h-1zM233 206h1v1h-1zM232 207h1v1h-1zM231 208h1v1h-1zM230 209h1v1h-1zM229 210h1v1h-1zM228 211h1v1h-1zM227 212h1v1h-1zM226 213h1v1h-1zM225 214h1v2h-1zM224 216h1v1h-1zM223 217h1v1h-1zM222 218h1v1h-1zM221 219h1v1h-1zM220 220h1v1h-1zM219 221h1v1h-1zM218 222h1v1h-1zM217 223h1v1h-1zM216 224h1v2h-1zM215 226h1v1h-1zM214 227h1v1h-1zM213 228h1v1h-1zM212 229h1v1h-1zM211 230h1v1h-1zM210 231h1v1h-1zM209 232h1v1h-1zM208 233h1v1h-1zM207 234h1v2h-1zM206 236h1v1h-1zM205 237h1v1h-1zM204 238h1v1h-1zM203 239h1v1h-1zM202 240h1v1h-1zM201 241h1v1h-1zM200 242h1v1h-1zM199 243h1v1h-1zM198 244h1v1h-1zM197 245h1v2h-1zM196 247h1v1h-1zM195 248h1v1h-1zM194 249h1v1h-1zM193 250h1v1h-1zM192 251h1v1h-1zM191 252h1v1h-1zM190 253h1v1h-1zM189 254h1v1h-1zM188 255h1v2h-1zM187 257h1v1h-1zM186 258h1v1h-1zM185 259h1v1h-1zM184 260h1v1h-1zM183 261h1v1h-1zM182 262h1v1h-1zM181 263h1v1h-1zM180 264h1v1h-1zM179 265h1v2h-1zM178 267h1v1h-1zM177 268h1v1h-1zM176 269h1v1h-1zM175 270h1v1h-1zM174 271h1v1h-1zM173 272h1v1h-1zM172 273h1v1h-1zM171 274h1v1h-1zM170 275h1v1h-1zM169 276h1v2h-1zM168 278h1v1h-1zM167 279h1v1h-1zM166 280h1v1h-1zM165 281h1v1h-1zM164 282h1v1h-1zM163 283h1v1h-1zM162 284h1v1h-1zM161 285h1v1h-1zM160 286h1v2h-1zM159 288h1v1h-1zM158 289h1v1h-1zM157 290h1v1h-1zM156 291h1v1h-1zM155 292h1v1h-1zM154 293h1v1h-1zM153 294h1v1h-1zM152 295h1v1h-1zM151 296h1v2h-1zM150 298h1v1h-1zM149 299h1v1h-1zM148 300h1v1h-1zM147 301h1v1h-1zM146 302h1v1h-1zM145 303h1v1h-1zM144 304h1v1h-1zM143 305h1v1h-1zM142 306h1v1h-1zM141 307h1v2h-1zM140 309h1v1h-1zM139 310h1v1h-1zM138 311h1v1h-1zM137 312h1v1h-1zM136 313h1v1h-1zM135 314h1v1h-1zM134 315h1v1h-1zM133 316h1v1h-1zM132 317h1v2h-1zM131 319h1v1h-1zM130 320h1v1h-1zM129 321h1v1h-1zM128 322h1v1h-1zM127 323h1v1h-1zM126 324h1v1h-1zM125 325h1v1h-1zM124 326h1v1h-1zM123 327h1v2h-1zM122 329h1v1h-1zM121 330h1v1h-1zM120 331h1v1h-1zM119 332h1v1h-1zM118 333h1v1h-1zM117 334h1v1h-1zM116 335h1v1h-1zM115 336h1v1h-1zM114 337h1v1h-1zM113 338h1v2h-1zM112 340h1v1h-1zM111 341h1v1h-1zM110 342h1v1h-1zM109 343h1v1h-1zM108 344h1v1h-1zM107 345h1v1h-1zM106 346h1v1h-1zM105 347h1v1h-1zM104 348h1v2h-1zM103 350h1v1h-1zM102 351h1v1h-1zM101 352h1v1h-1zM100 353h1v1h-1zM99 354h1v1h-1zM98 355h1v1h-1zM97 356h1v1h-1zM96 357h1v1h-1zM95 358h1v2h-1zM94 360h1v1h-1zM93 361h1v1h-1zM92 362h1v1h-1zM91 363h1v1h-1zM90 364h1v1h-1zM89 365h1v1h-1zM88 366h1v1h-1zM87 367h1v1h-1zM86 368h1v1h-1zM85 369h1v2h-1zM84 371h1v1h-1zM83 372h1v1h-1zM82 373h1v1h-1zM81 374h1v1h-1zM80 375h1v1h-1zM79 376h1v1h-1zM78 377h1v1h-1zM77 378h1v1h-1zM76 379h1v2h-1zM75 381h1v1h-1zM74 382h1v1h-1zM73 383h1v1h-1zM72 384h1v1h-1zM71 385h1v1h-1zM70 386h1v1h-1zM69 387h1v1h-1zM68 388h1v1h-1zM67 389h1v2h-1zM66 391h1v1h-1zM65 392h1v1h-1zM64 393h1v1h-1zM63 394h1v1h-1zM62 395h1v1h-1zM61 396h1v1h-1zM60 397h1v1h-1zM59 398h1v1h-1zM58 399h1v1h-1zM57 400h1v2h-1zM56 402h1v1h-1zM55 403h1v1h-1zM54 404h1v1h-1zM53 405h1v1h-1zM52 406h1v1h-1zM51 407h1v1h-1zM50 408h1v1h-1zM49 409h1v1h-1zM48 410h1v2h-1zM47 412h1v1h-1zM46 413h1v1h-1zM45 414h1v1h-1zM44 415h1v1h-1zM43 416h1v1h-1zM42 417h1v1h-1zM41 418h1v1h-1zM40 419h1v1h-1zM39 420h1v2h-1zM38 422h1v1h-1zM37 423h1v1h-1zM36 424h1v1h-1zM35 425h1v1h-1zM34 426h1v1h-1zM33 427h1v1h-1zM32 428h1v1h-1zM31 429h1v1h-1zM30 430h1v1h-1zM29 431h1v2h-1zM28 433h1v1h-1zM27 434h1v1h-1zM26 435h1v1h-1zM25 436h1v1h-1zM24 437h1v1h-1zM23 438h1v1h-1zM22 439h1v1h-1zM21 440h1v1h-1zM20 441h1v2h-1zM19 443h1v1h-1zM18 444h1v1h-1zM17 445h1v1h-1zM16 446h1v1h-1zM15 447h1v1h-1zM14 448h1v1h-1zM13 449h1v1h-1zM12 450h1v1h-1zM11 451h1v2h-1zM10 453h1v1h-1zM9 454h1v1h-1zM8 455h1v1h-1zM7 456h1v1h-1zM6 457h1v1h-1zM5 458h1v1h-1zM4 459h1v1h-1zM3 460h1v1h-1zM2 461h1v1h-1zM1 462h1v2h-1zM0 464h1v1h-1z"/>
<rect x="61" y="142" width="694" height="3" fill="#0000ff"/>
<rect x="215" y="187" width="540" height="3" fill="#0000ff"/>
<rect x="0" y="429" width="755" height="3" fill="#0000ff"/>
<rect x="0" y="495" width="755" height="2" fill="#0000ff"/>
<line x1="455" y1="306.5" x2="755" y2="306.5" stroke="#0000ff" stroke-width="1" stroke-dasharray="3 3"/>
<line x1="496" y1="363.5" x2="650" y2="363.5" stroke="#0000ff" stroke-width="1" stroke-dasharray="3 3"/>
<line x1="566" y1="253.5" x2="636" y2="253.5" stroke="#0000ff" stroke-width="1" stroke-dasharray="3 3"/>
<path fill="#000000" d="M160 125h1v2h-1zM161 126h5v2h-5zM166 127h4v2h-4zM170 128h4v2h-4zM174 129h4v2h-4zM178 130h4v2h-4zM182 131h5v2h-5zM187 132h4v2h-4zM191 133h4v2h-4zM195 134h4v2h-4zM199 135h5v2h-5zM204 136h4v2h-4zM208 137h4v2h-4zM212 138h4v2h-4zM216 139h5v2h-5zM221 140h4v2h-4zM225 141h4v2h-4zM229 142h4v2h-4zM233 143h5v2h-5zM238 144h4v2h-4zM242 145h4v2h-4zM246 146h4v2h-4zM250 147h5v2h-5zM255 148h4v2h-4zM259 149h4v2h-4zM263 150h4v2h-4zM267 151h5v2h-5zM272 152h4v2h-4zM276 153h4v2h-4zM280 154h4v2h-4zM284 155h4v2h-4zM288 156h5v2h-5zM293 157h4v2h-4zM297 158h4v2h-4zM301 159h4v2h-4zM305 160h5v2h-5zM310 161h4v2h-4zM314 162h4v2h-4zM318 163h4v2h-4zM322 164h5v2h-5zM327 165h4v2h-4zM331 166h4v2h-4zM335 167h4v2h-4zM339 168h5v2h-5zM344 169h4v2h-4zM348 170h4v2h-4zM352 171h4v2h-4zM356 172h5v2h-5zM361 173h4v2h-4zM365 174h4v2h-4zM369 175h4v2h-4zM373 176h5v2h-5zM378 177h4v2h-4zM382 178h4v2h-4zM386 179h4v2h-4zM390 180h5v2h-5zM395 181h4v2h-4zM399 182h4v2h-4zM403 183h4v2h-4zM407 184h4v2h-4zM411 185h5v2h-5zM416 186h4v2h-4zM420 187h4v2h-4zM424 188h4v2h-4zM428 189h5v2h-5zM433 190h4v2h-4zM437 191h4v2h-4zM441 192h4v2h-4zM445 193h5v2h-5zM450 194h4v2h-4zM454 195h4v2h-4zM458 196h4v2h-4zM462 197h5v2h-5zM467 198h4v2h-4zM471 199h4v2h-4zM475 200h4v2h-4zM479 201h5v2h-5zM484 202h4v2h-4zM488 203h4v2h-4zM492 204h4v2h-4zM496 205h5v2h-5zM501 206h4v2h-4zM505 207h4v2h-4zM509 208h4v2h-4zM513 209h5v2h-5zM518 210h4v2h-4zM522 211h4v2h-4zM526 212h4v2h-4zM530 213h4v2h-4zM534 214h5v2h-5zM539 215h4v2h-4zM543 216h4v2h-4zM547 217h4v2h-4zM551 218h5v2h-5zM556 219h4v2h-4zM560 220h4v2h-4zM564 221h4v2h-4zM568 222h5v2h-5zM573 223h4v2h-4zM577 224h4v2h-4zM581 225h4v2h-4zM585 226h5v2h-5zM590 227h4v2h-4zM594 228h4v2h-4zM598 229h4v2h-4zM602 230h5v2h-5zM607 231h4v2h-4zM611 232h4v2h-4zM615 233h4v2h-4zM619 234h5v2h-5zM624 235h4v2h-4zM628 236h4v2h-4zM632 237h4v2h-4zM636 238h4v2h-4zM640 239h5v2h-5zM645 240h4v2h-4zM649 241h4v2h-4zM653 242h4v2h-4zM657 243h5v2h-5zM662 244h4v2h-4zM666 245h4v2h-4zM670 246h4v2h-4zM674 247h5v2h-5zM679 248h4v2h-4zM683 249h4v2h-4zM687 250h4v2h-4zM691 251h5v2h-5zM696 252h4v2h-4zM700 253h4v2h-4zM704 254h4v2h-4zM708 255h5v2h-5zM713 256h4v2h-4zM717 257h4v2h-4zM721 258h4v2h-4zM725 259h5v2h-5zM730 260h4v2h-4zM734 261h4v2h-4zM738 262h4v2h-4zM742 263h5v2h-5zM747 264h4v2h-4zM751 265h4v2h-4z"/>
<path fill="#000000" d="M132 331h4v2h-4zM136 332h3v2h-3zM139 333h4v2h-4zM143 334h4v2h-4zM147 335h4v2h-4zM151 336h4v2h-4zM155 337h4v2h-4zM159 338h4v2h-4zM163 339h4v2h-4zM167 340h4v2h-4zM171 341h4v2h-4zM175 342h4v2h-4zM179 343h4v2h-4zM183 344h4v2h-4zM187 345h4v2h-4zM191 346h4v2h-4zM195 347h4v2h-4zM199 348h3v2h-3zM202 349h4v2h-4zM206 350h4v2h-4zM210 351h4v2h-4zM214 352h4v2h-4zM218 353h4v2h-4zM222 354h4v2h-4zM226 355h4v2h-4zM230 356h4v2h-4zM234 357h4v2h-4zM238 358h4v2h-4zM242 359h4v2h-4zM246 360h4v2h-4zM250 361h4v2h-4zM254 362h4v2h-4zM258 363h4v2h-4zM262 364h3v2h-3zM265 365h4v2h-4zM269 366h4v2h-4zM273 367h4v2h-4zM277 368h4v2h-4zM281 369h4v2h-4zM285 370h4v2h-4zM289 371h4v2h-4zM293 372h4v2h-4zM297 373h4v2h-4zM301 374h4v2h-4zM305 375h4v2h-4zM309 376h4v2h-4zM313 377h4v2h-4zM317 378h4v2h-4zM321 379h4v2h-4zM325 380h3v2h-3zM328 381h4v2h-4zM332 382h4v2h-4zM336 383h4v2h-4zM340 384h4v2h-4zM344 385h4v2h-4zM348 386h4v2h-4zM352 387h4v2h-4zM356 388h4v2h-4zM360 389h4v2h-4zM364 390h4v2h-4zM368 391h4v2h-4zM372 392h4v2h-4zM376 393h4v2h-4zM380 394h4v2h-4zM384 395h4v2h-4zM388 396h3v2h-3zM391 397h4v2h-4zM395 398h4v2h-4zM399 399h4v2h-4zM403 400h4v2h-4zM407 401h4v2h-4zM411 402h4v2h-4zM415 403h4v2h-4zM419 404h4v2h-4zM423 405h4v2h-4zM427 406h4v2h-4zM431 407h4v2h-4zM435 408h4v2h-4zM439 409h4v2h-4zM443 410h4v2h-4zM447 411h4v2h-4zM451 412h3v2h-3zM454 413h4v2h-4zM458 414h4v2h-4zM462 415h4v2h-4zM466 416h4v2h-4zM470 417h4v2h-4zM474 418h4v2h-4zM478 419h4v2h-4zM482 420h4v2h-4zM486 421h4v2h-4zM490 422h4v2h-4zM494 423h4v2h-4zM498 424h4v2h-4zM502 425h4v2h-4zM506 426h4v2h-4zM510 427h4v2h-4zM514 428h3v2h-3zM517 429h4v2h-4zM521 430h4v2h-4zM525 431h4v2h-4zM529 432h4v2h-4zM533 433h4v2h-4zM537 434h4v2h-4zM541 435h4v2h-4zM545 436h4v2h-4zM549 437h4v2h-4zM553 438h4v2h-4zM557 439h4v2h-4zM561 440h4v2h-4zM565 441h4v2h-4zM569 442h4v2h-4zM573 443h3v2h-3zM576 444h4v2h-4zM580 445h4v2h-4zM584 446h4v2h-4zM588 447h4v2h-4zM592 448h4v2h-4zM596 449h4v2h-4zM600 450h4v2h-4zM604 451h4v2h-4zM608 452h4v2h-4zM612 453h4v2h-4zM616 454h4v2h-4zM620 455h4v2h-4zM624 456h4v2h-4zM628 457h4v2h-4zM632 458h4v2h-4zM636 459h3v2h-3zM639 460h4v2h-4zM643 461h4v2h-4zM647 462h4v2h-4zM651 463h4v2h-4zM655 464h4v2h-4zM659 465h4v2h-4zM663 466h4v2h-4zM667 467h4v2h-4zM671 468h4v2h-4zM675 469h4v2h-4zM679 470h4v2h-4zM683 471h4v2h-4zM687 472h4v2h-4zM691 473h4v2h-4zM695 474h4v2h-4zM699 475h3v2h-3zM702 476h4v2h-4zM706 477h4v2h-4zM710 478h4v2h-4zM714 479h4v2h-4zM718 480h4v2h-4zM722 481h4v2h-4zM726 482h4v2h-4zM730 483h4v2h-4zM734 484h4v2h-4zM738 485h4v2h-4zM742 486h4v2h-4zM746 487h4v2h-4zM750 488h4v2h-4zM754 489h1v2h-1z"/>
<rect x="524" y="223" width="231" height="1" fill="#0000ff"/>
<rect x="5" y="483" width="4" height="3" fill="#0000ff"/>
<rect x="19" y="454" width="4" height="3" fill="#0000ff"/>
<rect x="33" y="425" width="4" height="3" fill="#0000ff"/>
<rect x="48" y="390" width="4" height="3" fill="#0000ff"/>
<rect x="61" y="355" width="4" height="3" fill="#0000ff"/>
<rect x="75" y="322" width="4" height="3" fill="#0000ff"/>
<rect x="89" y="289" width="4" height="3" fill="#0000ff"/>
<rect x="103" y="261" width="4" height="3" fill="#0000ff"/>
<rect x="117" y="244" width="4" height="3" fill="#0000ff"/>
<rect x="131" y="238" width="4" height="3" fill="#0000ff"/>
<rect x="145" y="218" width="4" height="3" fill="#0000ff"/>
<rect x="159" y="208" width="4" height="3" fill="#0000ff"/>
<rect x="174" y="127" width="4" height="3" fill="#0000ff"/>
<rect x="187" y="127" width="4" height="3" fill="#0000ff"/>
<rect x="201" y="134" width="4" height="3" fill="#0000ff"/>
<rect x="215" y="146" width="4" height="3" fill="#0000ff"/>
<rect x="229" y="158" width="4" height="3" fill="#0000ff"/>
<rect x="243" y="162" width="4" height="3" fill="#0000ff"/>
<rect x="257" y="162" width="4" height="3" fill="#0000ff"/>
<rect x="271" y="170" width="4" height="3" fill="#0000ff"/>
<rect x="285" y="173" width="4" height="3" fill="#0000ff"/>
<rect x="299" y="173" width="4" height="3" fill="#0000ff"/>
<rect x="313" y="189" width="4" height="3" fill="#0000ff"/>
<rect x="327" y="205" width="4" height="3" fill="#0000ff"/>
<rect x="341" y="218" width="4" height="3" fill="#0000ff"/>
<rect x="354" y="381" width="4" height="3" fill="#0000ff"/>
<rect x="369" y="377" width="4" height="3" fill="#0000ff"/>
<rect x="383" y="373" width="4" height="3" fill="#0000ff"/>
<rect x="397" y="365" width="4" height="3" fill="#0000ff"/>
<rect x="411" y="357" width="4" height="3" fill="#0000ff"/>
<rect x="425" y="349" width="4" height="3" fill="#0000ff"/>
<rect x="439" y="175" width="4" height="3" fill="#0000ff"/>
<rect x="453" y="178" width="4" height="3" fill="#0000ff"/>
<rect x="467" y="185" width="4" height="3" fill="#0000ff"/>
<rect x="480" y="200" width="4" height="3" fill="#0000ff"/>
<rect x="495" y="218" width="4" height="3" fill="#0000ff"/>
<rect x="509" y="234" width="4" height="3" fill="#0000ff"/>
<rect x="523" y="249" width="4" height="3" fill="#0000ff"/>
<rect x="551" y="425" width="4" height="3" fill="#0000ff"/>
<rect x="565" y="417" width="4" height="3" fill="#0000ff"/>
<rect x="579" y="405" width="4" height="3" fill="#0000ff"/>
<rect x="592" y="389" width="4" height="3" fill="#0000ff"/>
<rect x="322.5" y="114.5" width="30" height="13" fill="#ffff00" stroke="#0000ff" stroke-width="1"/>
<text x="323.5" y="124" class="t" style="fill:#0000ff">1158</text>
<rect x="303.5" y="163.5" width="30" height="13" fill="#ffff00" stroke="#0000ff" stroke-width="1"/>
<text x="304.5" y="173" class="t" style="fill:#0000ff">1142</text>
<rect x="320.5" y="435.5" width="30" height="13" fill="#ffff00" stroke="#0000ff" stroke-width="1"/>
<text x="321.5" y="445" class="t" style="fill:#0000ff">1061</text>
<rect x="324.5" y="504.5" width="30" height="13" fill="#ffff00" stroke="#0000ff" stroke-width="1"/>
<text x="325.5" y="514" class="t" style="fill:#0000ff">1040</text>
<text x="330" y="107" class="t" textLength="97" lengthAdjust="spacing">SPX, Parabolic SAR</text>
</svg>
</body></html>
